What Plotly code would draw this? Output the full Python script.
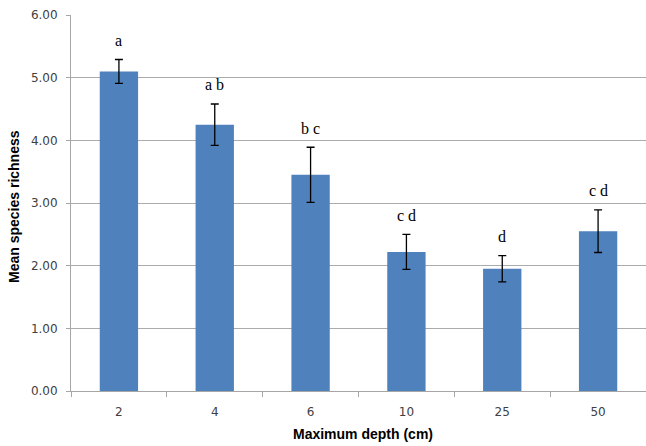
import plotly.graph_objects as go

categories = ["2", "4", "6", "10", "25", "50"]
means = [5.10, 4.25, 3.45, 2.22, 1.95, 2.55]
errors = [0.19, 0.33, 0.44, 0.28, 0.21, 0.34]
letters = ["a", "a b", "b c", "c d", "d", "c d"]
y_ticks = [0, 1, 2, 3, 4, 5, 6]
y_tick_labels = ["0.00", "1.00", "2.00", "3.00", "4.00", "5.00", "6.00"]

fig = go.Figure()
fig.add_trace(go.Bar(
    x=categories, y=means,
    marker=dict(color="#4F81BD", line=dict(width=0)),
    error_y=dict(type="data", array=errors, visible=True,
                 color="#000000", thickness=1.3, width=4),
))

for i, (m, e, t) in enumerate(zip(means, errors, letters)):
    fig.add_annotation(x=i, y=m + e, text=t, showarrow=False,
                       xref="x", yref="y", yanchor="middle", yshift=19,
                       font=dict(family="Liberation Serif, Times New Roman, serif",
                                 size=16, color="#000000"))

fig.add_annotation(text="<b>Maximum depth (cm)</b>", xref="paper", yref="paper",
                   x=0.5, y=0, yshift=-43, xshift=4, showarrow=False, yanchor="middle",
                   font=dict(family="Liberation Sans, Arial, sans-serif", size=14, color="#000000"))
fig.add_annotation(text="<b>Mean species richness</b>", xref="paper", yref="paper",
                   x=0, y=0.5, xshift=-57, yshift=-4, showarrow=False, textangle=-90,
                   xanchor="center", yanchor="middle",
                   font=dict(family="Liberation Sans, Arial, sans-serif", size=14, color="#000000"))

fig.update_layout(
    width=646, height=446,
    margin=dict(l=71, r=0, t=15, b=55),
    paper_bgcolor="white", plot_bgcolor="white",
    showlegend=False,
    bargap=0.6,
    xaxis=dict(
        type="category", range=[-0.5, 5.5], automargin=False, tickangle=0,
        showline=True, linecolor="#A6A6A6", linewidth=1,
        ticks="outside", tickson="boundaries", ticklen=5, tickcolor="#A6A6A6",
        tickfont=dict(family="DejaVu Sans, sans-serif", size=12, color="#404040"),
        showgrid=False, zeroline=False, ticklabelstandoff=10,
    ),
    yaxis=dict(
        range=[0, 6], tickvals=y_ticks, ticktext=y_tick_labels, automargin=False,
        showline=True, linecolor="#A6A6A6", linewidth=1,
        ticks="outside", ticklen=4, tickcolor="#A6A6A6",
        showgrid=True, gridcolor="#ABABAB", gridwidth=1,
        zeroline=False,
        tickfont=dict(family="DejaVu Sans, sans-serif", size=12, color="#404040"),
        ticklabelstandoff=6,
    ),
)

fig.write_html("out.html", config={"displayModeBar": False},
               post_script="document.body.style.margin='0';document.body.style.padding='0';")
